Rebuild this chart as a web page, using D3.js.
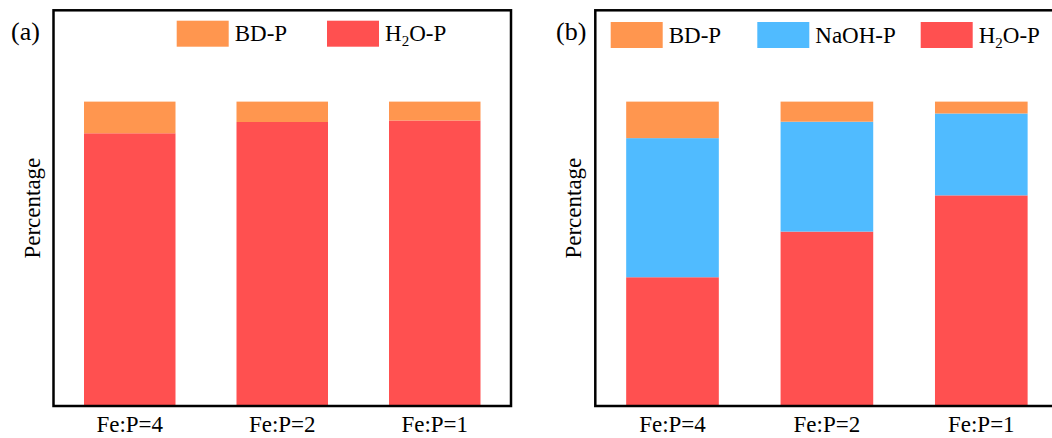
<!DOCTYPE html>
<html>
<head>
<meta charset="utf-8">
<script src="https://cdn.jsdelivr.net/npm/d3@7"></script>
<style>body{margin:0}</style>
</head>
<body>
<svg id="chart" width="1052" height="438"></svg>
<script>
// ---- Data ----
const categories = ["Fe:P=4", "Fe:P=2", "Fe:P=1"];
// Panel (a)
const aH2O = [89.6, 93.3, 93.8];
const aBD  = [10.4, 6.7, 6.2];
// Panel (b)
const bH2O  = [42.3, 57.3, 69.2];
const bNaOH = [45.7, 36.1, 26.9];
const bBD   = [12.0, 6.6, 3.9];
const yDomain = [0, 130];

const colors = { BD: "#FF964F", NaOH: "#50BBFF", H2O: "#FF5050" };

const svg = d3.select("#chart");
const FONT = 23;

function drawPanel(cfg) {
  const x = d3.scaleBand().domain(categories).range([cfg.left, cfg.right])
    .paddingInner(0.4).paddingOuter(0.2);
  const y = d3.scaleLinear().domain(yDomain).range([cfg.bottom, cfg.top]);

  const rows = categories.map((c, i) => {
    const r = { cat: c };
    cfg.series.forEach(s => r[s.key] = s.values[i]);
    return r;
  });
  const stack = d3.stack().keys(cfg.series.map(s => s.key))(rows);
  stack.forEach(layer => {
    svg.selectAll(null).data(layer).join("rect")
      .attr("fill", colors[layer.key])
      .attr("x", d => x(d.data.cat))
      .attr("width", x.bandwidth())
      .attr("y", d => y(d[1]))
      .attr("height", d => y(d[0]) - y(d[1]));
  });

  svg.append("rect")
    .attr("x", cfg.left).attr("y", cfg.top)
    .attr("width", cfg.right - cfg.left).attr("height", cfg.bottom - cfg.top)
    .attr("fill", "none").attr("stroke", "#000").attr("stroke-width", 2.5);

  // x tick labels placed from the band scale
  svg.selectAll(null).data(categories).join("text")
    .attr("x", d => x(d) + x.bandwidth() / 2)
    .attr("y", cfg.bottom + 26)
    .attr("text-anchor", "middle")
    .attr("font-family", "Liberation Serif")
    .attr("font-size", FONT)
    .text(d => d);

  svg.append("text")
    .attr("transform", `translate(${cfg.ylabX},${(cfg.top + cfg.bottom) / 2}) rotate(-90)`)
    .attr("text-anchor", "middle")
    .attr("font-family", "Liberation Serif")
    .attr("font-size", FONT)
    .text("Percentage");

  svg.append("text").attr("x", cfg.tagX).attr("y", 40)
    .attr("font-family", "Liberation Serif")
    .attr("font-size", 26).text(cfg.tag);

  cfg.legend.forEach(l => {
    svg.append("rect").attr("x", l.x).attr("y", cfg.legY).attr("width", 52).attr("height", 26)
      .attr("fill", colors[l.key]);
    const t = svg.append("text").attr("x", l.x + 58).attr("y", cfg.legY + 20.5)
      .attr("font-family", "Liberation Serif")
      .attr("font-size", FONT);
    if (l.key === "H2O") {
      t.append("tspan").text("H");
      t.append("tspan").attr("font-size", 15).attr("dy", 5).text("2");
      t.append("tspan").attr("dy", -5).text("O-P");
    } else {
      t.text(l.label);
    }
  });
}

drawPanel({
  left: 53.5, right: 511, top: 10.3, bottom: 406,
  ylabX: 40, tag: "(a)", tagX: 11,
  legY: 20.7,
  series: [{ key: "H2O", values: aH2O }, { key: "BD", values: aBD }],
  legend: [{ key: "BD", label: "BD-P", x: 176.7 }, { key: "H2O", label: "H2O-P", x: 327 }]
});

drawPanel({
  left: 595.3, right: 1058.5, top: 10.3, bottom: 406,
  ylabX: 581, tag: "(b)", tagX: 556,
  legY: 22,
  series: [{ key: "H2O", values: bH2O }, { key: "NaOH", values: bNaOH }, { key: "BD", values: bBD }],
  legend: [{ key: "BD", label: "BD-P", x: 610.7 }, { key: "NaOH", label: "NaOH-P", x: 757.3 }, { key: "H2O", label: "H2O-P", x: 920.7 }]
});
</script>
</body>
</html>
